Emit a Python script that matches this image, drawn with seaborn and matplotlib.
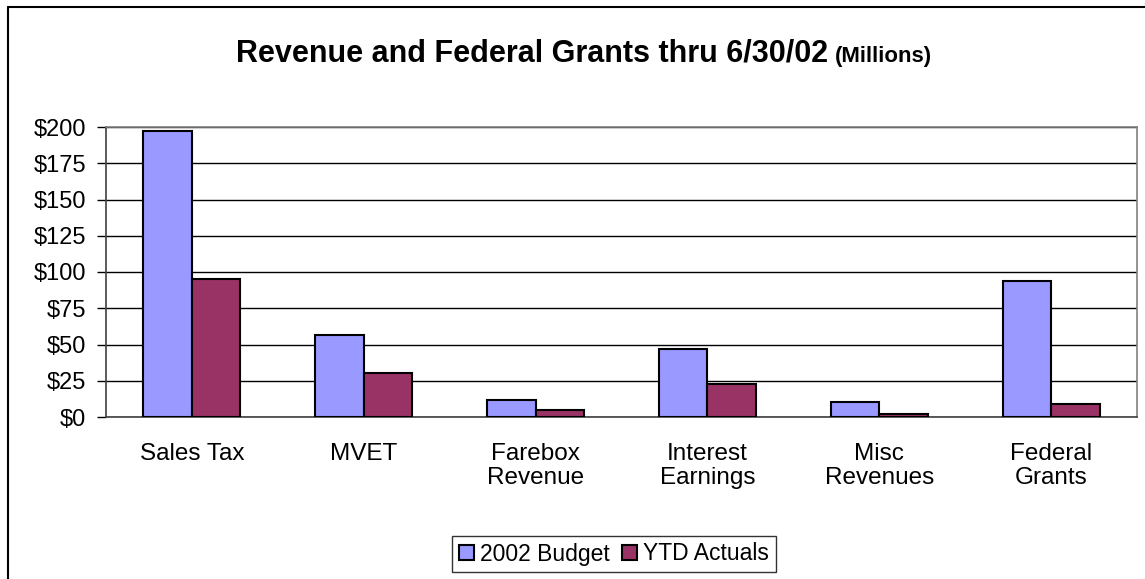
import numpy as np
import pandas as pd
import matplotlib
matplotlib.use("Agg")
import matplotlib.pyplot as plt
from matplotlib.lines import Line2D
import seaborn as sns

categories = ["Sales Tax", "MVET", "Farebox\nRevenue", "Interest\nEarnings", "Misc\nRevenues", "Federal\nGrants"]
budget = [197, 56.5, 11.7, 47, 10.6, 93.8]
actuals = [95, 30.3, 4.8, 22.8, 2.1, 9]
series = ["2002 Budget", "YTD Actuals"]
colors = ["#9999FF", "#993366"]
yticks = [0, 25, 50, 75, 100, 125, 150, 175, 200]

df = pd.DataFrame({
    "category": categories * 2,
    "value": budget + actuals,
    "series": [series[0]] * len(categories) + [series[1]] * len(categories),
})

sns.set_theme(style="white")
plt.rcParams["font.family"] = ["Liberation Sans", "DejaVu Sans"]
plt.rcParams["text.color"] = "black"

fig = plt.figure(figsize=(11.45, 5.79), dpi=100)
ax = fig.add_axes([106 / 1145, 1 - 417 / 579, (1137 - 106) / 1145, (417 - 127) / 579])

sns.barplot(data=df, x="category", y="value", hue="series", palette=colors,
            width=0.565, edgecolor="black", linewidth=1.5, saturation=1,
            ax=ax, zorder=3, legend=True)

ax.set_ylim(0, 200)
ax.set_yticks(yticks)
ax.set_yticklabels([f"${v}" for v in yticks], fontsize=17)
ax.set_xlabel("")
ax.set_ylabel("")
ax.tick_params(axis="x", length=0, pad=18.5, labelsize=17.5, labelcolor="black")
ax.tick_params(axis="y", length=6.5, width=1, color="black", left=True, pad=8, labelcolor="black")
for lbl in ax.get_xticklabels():
    lbl.set_linespacing(1.15)
ax.set_xlim(-0.5, len(categories) - 0.5)
ax.grid(axis="y", color="black", linewidth=1, zorder=0)
ax.set_axisbelow(True)
for s in ["top", "right"]:
    ax.spines[s].set_color("#808080")
    ax.spines[s].set_linewidth(1.2)
for s in ["left", "bottom"]:
    ax.spines[s].set_color("#404040")
    ax.spines[s].set_linewidth(1.2)

handles, labels = ax.get_legend_handles_labels()
ax.get_legend().remove()
fig.legend(handles, labels, loc="center", bbox_to_anchor=(614 / 1145, 1 - 554 / 579), ncol=2,
           fontsize=16.5, frameon=True, fancybox=False, edgecolor="black",
           handlelength=0.65, handleheight=0.65, handletextpad=0.3, columnspacing=0.5,
           borderpad=0.3)
fig.legends[0].get_frame().set_linewidth(1)

fig.text(828 / 1145, 1 - 62 / 579, "Revenue and Federal Grants thru 6/30/02",
         ha="right", va="baseline", fontsize=22, fontweight="bold")
fig.text(835 / 1145, 1 - 62 / 579, "(Millions)",
         ha="left", va="baseline", fontsize=16, fontweight="bold")

# outer chart border
fig.add_artist(Line2D([8 / 1145, 8 / 1145], [0, 1 - 7 / 579], color="black", linewidth=1.5))
fig.add_artist(Line2D([8 / 1145, 1], [1 - 7 / 579, 1 - 7 / 579], color="black", linewidth=1.5))

fig.savefig("out.png", dpi=100, facecolor="white")
